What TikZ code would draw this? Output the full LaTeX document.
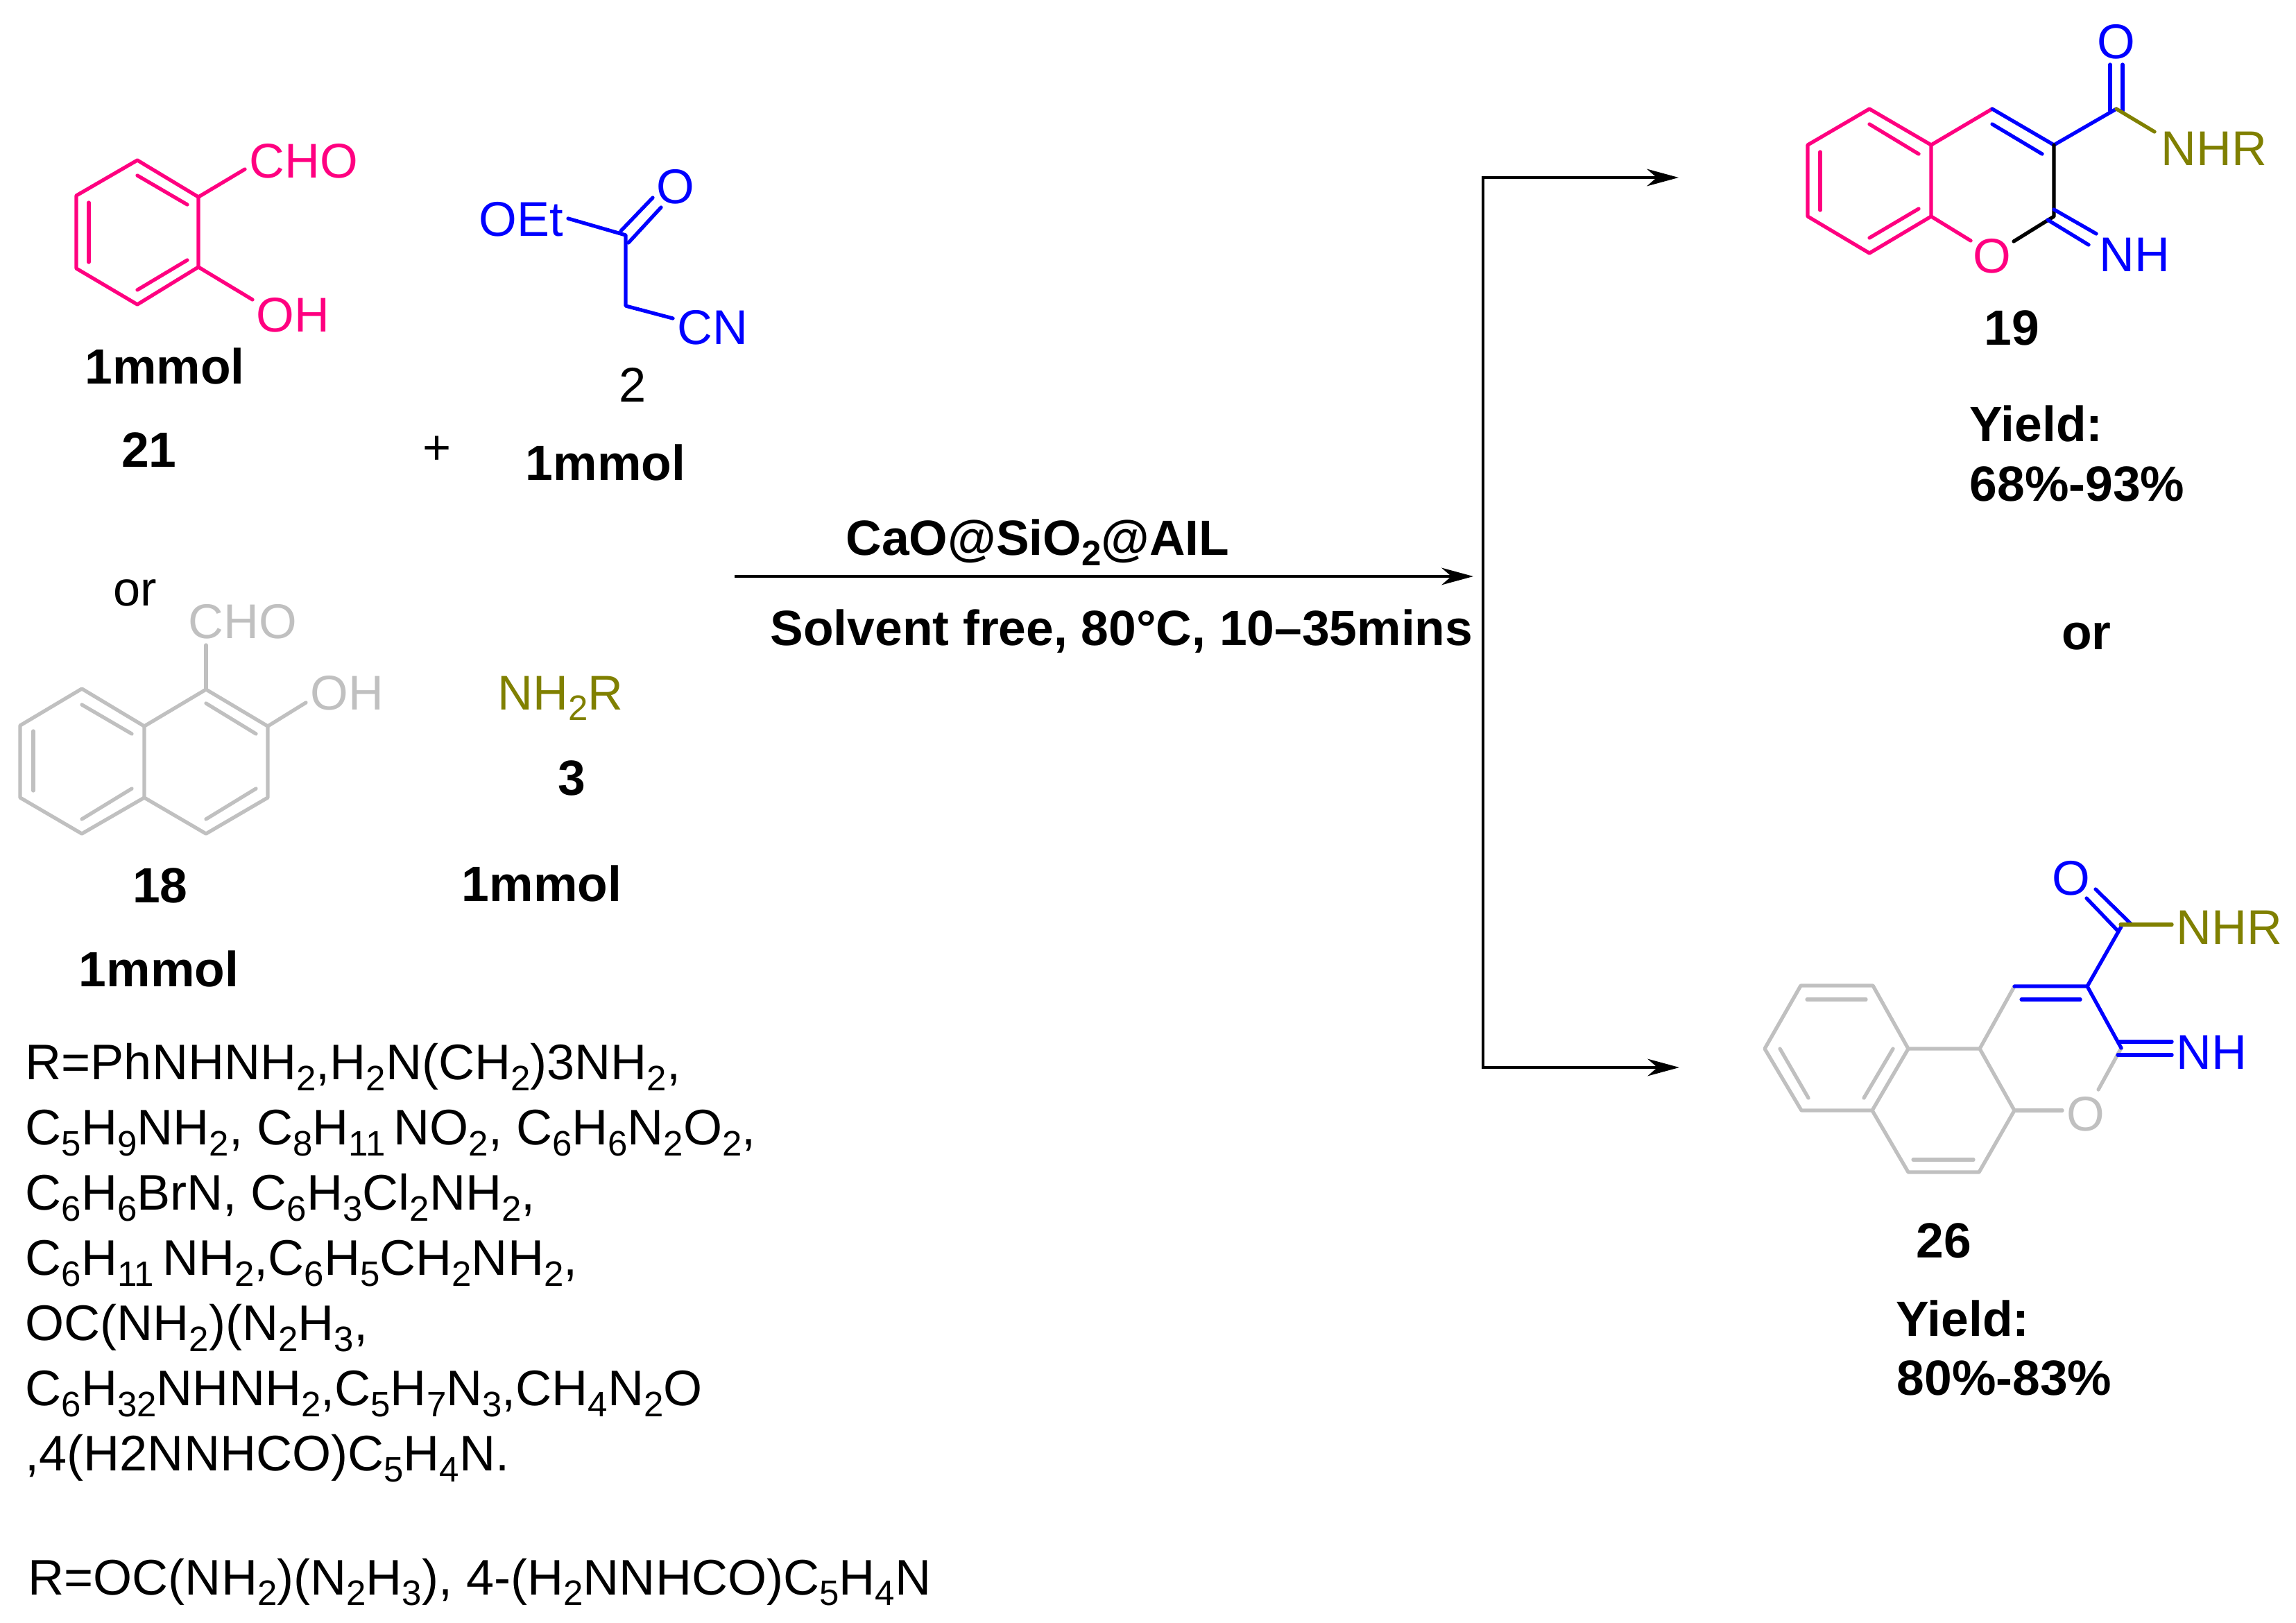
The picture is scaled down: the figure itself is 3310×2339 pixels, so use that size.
\documentclass[tikz,border=0pt]{standalone}
\usepackage{fontspec}
\setmainfont{Liberation Sans}
\usetikzlibrary{arrows.meta}
\definecolor{molpink}{HTML}{FF0080}
\definecolor{molblue}{HTML}{0000FF}
\definecolor{molgrey}{HTML}{C0C0C0}
\definecolor{mololive}{HTML}{808000}
\newcommand{\sbs}[1]{\raisebox{-0.22em}{\fontsize{14.5}{14.5}\selectfont #1}}
\tikzset{
  lblL/.style={ inner sep=0pt, anchor=base west, font=\fontsize{20}{24}\selectfont }
}
\tikzset{
  lblC/.style={ inner sep=0pt, anchor=base, font=\fontsize{20}{24}\selectfont }
}
\tikzset{
  lblR/.style={ lblL, font=\fontsize{20.5}{26.7}\selectfont }
}
\tikzset{
  boldL/.style={ lblL, font=\fontsize{20.3}{24}\selectfont\bfseries }
}
\tikzset{
  boldC/.style={ lblC, font=\fontsize{20.3}{24}\selectfont\bfseries }
}
\tikzset{
  bond/.style={ line width=1.5pt, line join=round, line cap=round }
}
\tikzset{
  bondP/.style={ bond, draw=molpink }, bondB/.style={ bond, draw=molblue },
  bondG/.style={ bond, draw=molgrey }, bondO/.style={ bond, draw=mololive },
  bondK/.style={ bond, draw=black }
}
\tikzset{
  rxntip/.tip={Stealth[length=13pt,width=7pt,inset=4pt]},
  rxn/.style={ line width=1.3pt }
}
\begin{document}
\begin{tikzpicture}[x=0.01cm, y=-0.01cm]
      \useasboundingbox (0, 0) rectangle (3310, 2339);

      % salicylaldehyde 21
      \coordinate (sa1) at (198, 231);
      \coordinate (sa2) at (286, 284);
      \coordinate (sa3) at (286, 385);
      \coordinate (sa4) at (198, 439);
      \coordinate (sa5) at (110, 387);
      \coordinate (sa6) at (110, 282);
      \coordinate (sai1) at (198, 253);
      \coordinate (sai2) at (270, 295);
      \coordinate (sai3) at (128, 292);
      \coordinate (sai4) at (128, 378);
      \coordinate (sai5) at (198, 418);
      \coordinate (sai6) at (270, 375);
      \node[lblL, text=molpink] (saCHO) at (359, 256) {CHO};
      \node[lblL, text=molpink] (saOH) at (369, 478) {OH};
      \coordinate (saCHOe) at (353, 244);
      \coordinate (saOHe) at (364, 432);
      \draw[bondP] (sa1) -- (sa2) -- (sa3) -- (sa4) -- (sa5) -- (sa6) -- cycle;
      \draw[bondP] (sai1) -- (sai2);
      \draw[bondP] (sai3) -- (sai4);
      \draw[bondP] (sai5) -- (sai6);
      \draw[bondP] (sa2) -- (saCHOe);
      \draw[bondP] (sa3) -- (saOHe);
      \node[boldL] (mmolA) at (122, 553) {1mmol};
      \node[boldC] (numA) at (215, 673) {21};

      % cyanoacetate 2
      \coordinate (ca1) at (902, 339);
      \coordinate (ca2) at (902, 441);
      \coordinate (caOEt) at (819, 315);
      \coordinate (caCN) at (970, 459);
      \coordinate (caO1a) at (895, 333);
      \coordinate (caO1b) at (941, 285);
      \coordinate (caO2a) at (906, 350);
      \coordinate (caO2b) at (953, 299);
      \node[lblL, text=molblue] (caOEtl) at (690, 340) {OEt};
      \node[lblC, text=molblue] (caOl) at (974, 293) {O};
      \node[lblL, text=molblue] (caCNl) at (976, 496) {CN};
      \draw[bondB] (caOEt) -- (ca1) -- (ca2) -- (caCN);
      \draw[bondB] (caO1a) -- (caO1b);
      \draw[bondB] (caO2a) -- (caO2b);
      \node[lblC] (numB) at (912, 579) {2};
      \node[lblC] (plus) at (630, 669) {+};
      \node[boldC] (mmolB) at (873, 692) {1mmol};
      \node[lblC] (orA) at (195, 873) {or};

      % naphthol aldehyde 18
      \coordinate (na1) at (297, 994);
      \coordinate (na2) at (386, 1047);
      \coordinate (na3) at (386, 1150);
      \coordinate (na4) at (297, 1202);
      \coordinate (na4a) at (208, 1150);
      \coordinate (na8a) at (208, 1047);
      \coordinate (na8) at (118, 993);
      \coordinate (na7) at (29, 1046);
      \coordinate (na6) at (29, 1150);
      \coordinate (na5) at (118, 1202);
      \coordinate (nai1) at (297, 1014);
      \coordinate (nai2) at (369, 1058);
      \coordinate (nai3) at (369, 1137);
      \coordinate (nai4) at (297, 1181);
      \coordinate (nai5) at (118, 1016);
      \coordinate (nai6) at (190, 1058);
      \coordinate (nai7) at (48, 1054);
      \coordinate (nai8) at (48, 1140);
      \coordinate (nai9) at (190, 1137);
      \coordinate (nai10) at (118, 1181);
      \coordinate (naCHOe) at (297, 930);
      \coordinate (naOHe) at (441, 1013);
      \node[lblL, text=molgrey] (naCHO) at (271, 920) {CHO};
      \node[lblL, text=molgrey] (naOH) at (447, 1023) {OH};
      \draw[bondG] (na8a) -- (na1) -- (na2) -- (na3) -- (na4) -- (na4a) -- cycle;
      \draw[bondG] (na8a) -- (na8) -- (na7) -- (na6) -- (na5) -- (na4a);
      \draw[bondG] (nai1) -- (nai2);
      \draw[bondG] (nai3) -- (nai4);
      \draw[bondG] (nai5) -- (nai6);
      \draw[bondG] (nai7) -- (nai8);
      \draw[bondG] (nai9) -- (nai10);
      \draw[bondG] (na1) -- (naCHOe);
      \draw[bondG] (na2) -- (naOHe);
      \node[boldC] (numC) at (231, 1301) {18};
      \node[boldC] (mmolC) at (229, 1422) {1mmol};

      \node[lblL, text=mololive] (amine) at (717, 1023) {NH\sbs{2}R};
      \node[boldC] (numD) at (824, 1146) {3};
      \node[boldC] (mmolD) at (781, 1299) {1mmol};

      % substituents
      \node[lblR, anchor=north west, align=left] (rlist) at (36, 1504) {R=PhNHNH\sbs{2},H\sbs{2}N(CH\sbs{2})3NH\sbs{2},\\
        C\sbs{5}H\sbs{9}NH\sbs{2}, C\sbs{8}H\sbs{11}\,NO\sbs{2}, C\sbs{6}H\sbs{6}N\sbs{2}O\sbs{2},\\
        C\sbs{6}H\sbs{6}BrN, C\sbs{6}H\sbs{3}Cl\sbs{2}NH\sbs{2},\\
        C\sbs{6}H\sbs{11}\,NH\sbs{2},C\sbs{6}H\sbs{5}CH\sbs{2}NH\sbs{2},\\
        OC(NH\sbs{2})(N\sbs{2}H\sbs{3},\\
        C\sbs{6}H\sbs{32}NHNH\sbs{2},C\sbs{5}H\sbs{7}N\sbs{3},CH\sbs{4}N\sbs{2}O\\
        ,4(H2NNHCO)C\sbs{5}H\sbs{4}N.};
      \node[lblR] (rlast) at (40, 2299) {R=OC(NH\sbs{2})(N\sbs{2}H\sbs{3}), 4-(H\sbs{2}NNHCO)C\sbs{5}H\sbs{4}N};

      % arrows
      \coordinate (rxnA) at (1059, 831);
      \coordinate (rxnB) at (2124, 831);
      \coordinate (topcorner) at (2138, 256);
      \coordinate (toptip) at (2420, 256);
      \coordinate (botcorner) at (2138, 1539);
      \coordinate (bottip) at (2421, 1539);
      \draw[rxn, -rxntip] (rxnA) -- (rxnB);
      \draw[rxn, rxntip-rxntip] (toptip) -- (topcorner) -- (botcorner) -- (bottip);
      \node[boldL] (catal) at (1219, 800) {CaO@SiO\sbs{2}@AIL};
      \node[boldL] (cond) at (1110, 930) {Solvent free, 80°C, 10--35mins};

      % chromene 19
      \coordinate (ch1) at (2695, 157);
      \coordinate (ch2) at (2784, 209);
      \coordinate (ch3) at (2784, 312);
      \coordinate (ch4) at (2695, 365);
      \coordinate (ch5) at (2606, 312);
      \coordinate (ch6) at (2606, 209);
      \coordinate (ch7) at (2872, 157);
      \coordinate (ch8) at (2961, 209);
      \coordinate (ch9) at (2961, 312);
      \coordinate (ch10) at (3051, 157);
      \coordinate (chi1) at (2695, 179);
      \coordinate (chi2) at (2766, 222);
      \coordinate (chi3) at (2624, 219);
      \coordinate (chi4) at (2624, 303);
      \coordinate (chi5) at (2695, 343);
      \coordinate (chi6) at (2766, 301);
      \coordinate (chi7) at (2872, 179);
      \coordinate (chi8) at (2944, 222);
      \coordinate (chOa) at (2841, 347);
      \coordinate (chOb) at (2903, 348);
      \coordinate (chNa) at (3106, 190);
      \coordinate (chC1a) at (3042, 93);
      \coordinate (chC1b) at (3042, 160);
      \coordinate (chC2a) at (3060, 93);
      \coordinate (chC2b) at (3060, 160);
      \coordinate (chN1a) at (2961, 302);
      \coordinate (chN1b) at (3022, 337);
      \coordinate (chN2a) at (2952, 317);
      \coordinate (chN2b) at (3011, 353);
      \draw[bondP] (ch1) -- (ch2) -- (ch3) -- (ch4) -- (ch5) -- (ch6) -- cycle;
      \draw[bondP] (chi1) -- (chi2);
      \draw[bondP] (chi3) -- (chi4);
      \draw[bondP] (chi5) -- (chi6);
      \draw[bondP] (ch2) -- (ch7);
      \draw[bondP] (ch3) -- (chOa);
      \draw[bondB] (ch7) -- (ch8) -- (ch10);
      \draw[bondB] (chi7) -- (chi8);
      \draw[bondB] (chC1a) -- (chC1b);
      \draw[bondB] (chC2a) -- (chC2b);
      \draw[bondO] (ch10) -- (chNa);
      \draw[bondK] (chOb) -- (ch9) -- (ch8);
      \draw[bondB] (chN1a) -- (chN1b);
      \draw[bondB] (chN2a) -- (chN2b);
      \node[lblC, text=molblue] (chOl) at (3051, 84) {O};
      \node[lblL, text=mololive] (chNHR) at (3115, 238) {NHR};
      \node[lblC, text=molpink] (chOr) at (2872, 393) {O};
      \node[lblL, text=molblue] (chNH) at (3026, 391) {NH};
      \node[boldC] (numE) at (2900, 497) {19};
      \node[boldL] (yieldA) at (2839, 636) {Yield:};
      \node[boldL] (valA) at (2839, 722) {68\%-93\%};
      \node[boldC] (orB) at (3008, 936) {or};

      % benzochromene 26
      \coordinate (bc1) at (2596, 1421);
      \coordinate (bc2) at (2700, 1421);
      \coordinate (bc3) at (2751, 1512);
      \coordinate (bc4) at (2699, 1601);
      \coordinate (bc5) at (2597, 1601);
      \coordinate (bc6) at (2544, 1512);
      \coordinate (bc7) at (2854, 1512);
      \coordinate (bc8) at (2904, 1601);
      \coordinate (bc9) at (2853, 1690);
      \coordinate (bc10) at (2751, 1690);
      \coordinate (bc11) at (2904, 1422);
      \coordinate (bc12) at (3009, 1422);
      \coordinate (bc13) at (3058, 1511);
      \coordinate (bc14) at (3058, 1336);
      \coordinate (bci1) at (2605, 1441);
      \coordinate (bci2) at (2690, 1441);
      \coordinate (bci3) at (2566, 1512);
      \coordinate (bci4) at (2607, 1583);
      \coordinate (bci5) at (2729, 1512);
      \coordinate (bci6) at (2687, 1583);
      \coordinate (bci7) at (2758, 1672);
      \coordinate (bci8) at (2845, 1672);
      \coordinate (bci9) at (2914, 1441);
      \coordinate (bci10) at (2999, 1441);
      \coordinate (bcOa) at (2973, 1601);
      \coordinate (bcOb) at (3025, 1571);
      \coordinate (bcC1a) at (3053, 1342);
      \coordinate (bcC1b) at (3008, 1295);
      \coordinate (bcC2a) at (3072, 1332);
      \coordinate (bcC2b) at (3021, 1282);
      \coordinate (bcNa) at (3057, 1333);
      \coordinate (bcNb) at (3131, 1333);
      \coordinate (bcN1a) at (3055, 1502);
      \coordinate (bcN1b) at (3131, 1502);
      \coordinate (bcN2a) at (3053, 1521);
      \coordinate (bcN2b) at (3131, 1521);
      \draw[bondG] (bc1) -- (bc2) -- (bc3) -- (bc4) -- (bc5) -- (bc6) -- cycle;
      \draw[bondG] (bc3) -- (bc7) -- (bc8) -- (bc9) -- (bc10) -- (bc4);
      \draw[bondG] (bci1) -- (bci2);
      \draw[bondG] (bci3) -- (bci4);
      \draw[bondG] (bci5) -- (bci6);
      \draw[bondG] (bci7) -- (bci8);
      \draw[bondG] (bc7) -- (bc11);
      \draw[bondG] (bc8) -- (bcOa);
      \draw[bondG] (bc13) -- (bcOb);
      \draw[bondB] (bc11) -- (bc12) -- (bc14);
      \draw[bondB] (bc12) -- (bc13);
      \draw[bondB] (bci9) -- (bci10);
      \draw[bondB] (bcC1a) -- (bcC1b);
      \draw[bondB] (bcC2a) -- (bcC2b);
      \draw[bondO] (bcNa) -- (bcNb);
      \draw[bondB] (bcN1a) -- (bcN1b);
      \draw[bondB] (bcN2a) -- (bcN2b);
      \node[lblC, text=molblue] (bcOl) at (2986, 1290) {O};
      \node[lblL, text=mololive] (bcNHR) at (3137, 1361) {NHR};
      \node[lblL, text=molblue] (bcNH) at (3137, 1541) {NH};
      \node[lblC, text=molgrey] (bcOr) at (3007, 1630) {O};
      \node[boldC] (numF) at (2802, 1813) {26};
      \node[boldL] (yieldB) at (2733, 1926) {Yield:};
      \node[boldL] (valB) at (2734, 2011) {80\%-83\%};
    \end{tikzpicture}
\end{document}
